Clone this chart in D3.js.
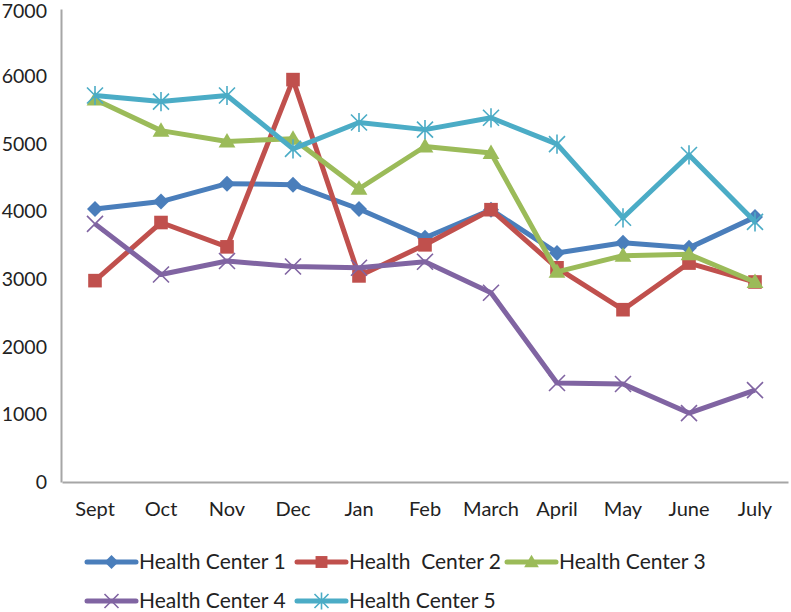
<!DOCTYPE html>
<html><head><meta charset="utf-8">
<script src="https://cdn.jsdelivr.net/npm/d3@7"></script>
<style>body{margin:0;background:#fff}svg{display:block}text{font-family:Lato,"Open Sans",sans-serif;fill:#222;white-space:pre}</style>
</head><body>
<script>
const months = ["Sept","Oct","Nov","Dec","Jan","Feb","March","April","May","June","July"];
const seriesNames = ["Health Center 1","Health  Center 2","Health Center 3","Health Center 4","Health Center 5"];
const hc1 = [4040,4150,4415,4400,4040,3615,4030,3390,3540,3465,3920];
const hc2 = [2980,3840,3480,5955,3050,3510,4030,3170,2550,3240,2960];
const hc3 = [5660,5200,5040,5080,4340,4965,4870,3110,3350,3370,2960];
const hc4 = [3820,3070,3270,3190,3170,3260,2800,1465,1450,1020,1360];
const hc5 = [5720,5630,5720,4930,5320,5215,5390,5000,3910,4840,3850];
const yTicks = [0,1000,2000,3000,4000,5000,6000,7000];
const colors = ["#4A7EBB","#C0504D","#9BBB59","#8064A2","#4BACC6"];
const markers = ["diamond","square","triangle","x","asterisk"];
const data = [hc1,hc2,hc3,hc4,hc5];

const W=791,H=612;
const svg=d3.select("body").append("svg").attr("width",W).attr("height",H);
const x=d3.scaleBand().domain(months).range([62,788]);
const y=d3.scaleLinear().domain([0,7000]).range([482,9]);

// axes
const gy=svg.append("g").attr("transform","translate(61,0)")
  .call(d3.axisLeft(y).tickValues(yTicks).tickSize(0).tickPadding(14).tickFormat(d3.format("d")));
gy.select(".domain").attr("stroke","#A6A6A6").attr("stroke-width",2);
gy.selectAll("text").style("font-size","19.5px").attr("fill","#222");
gy.selectAll(".tick").filter(d=>d===7000).select("text").attr("dy","0.42em");
const gx=svg.append("g").attr("transform","translate(0,482)")
  .call(d3.axisBottom(x).tickSize(0).tickPadding(20));
gx.select(".domain").attr("stroke","#A6A6A6").attr("stroke-width",2);
gx.selectAll("text").style("font-size","20px").attr("fill","#222");

function drawMarker(g,type,color,cx,cy,s){
  const m=g.append("g").attr("transform",`translate(${cx},${cy})`);
  if(type==="diamond") m.append("path").attr("d",`M0,${-s}L${s},0L0,${s}L${-s},0Z`).attr("fill",color);
  else if(type==="square") m.append("rect").attr("x",-s*0.85).attr("y",-s*0.85).attr("width",s*1.7).attr("height",s*1.7).attr("fill",color);
  else if(type==="triangle") m.append("path").attr("d",`M0,${-s*1.05}L${s*1.05},${s*0.75}L${-s*1.05},${s*0.75}Z`).attr("fill",color);
  else if(type==="x") m.append("path").attr("d",`M${-s},${-s}L${s},${s}M${-s},${s}L${s},${-s}`).attr("stroke",color).attr("stroke-width",1.6);
  else if(type==="asterisk") m.append("path").attr("d",`M${-s},${-s}L${s},${s}M${-s},${s}L${s},${-s}M0,${-s*1.2}L0,${s*1.2}`).attr("stroke",color).attr("stroke-width",1.6);
}

const line=d3.line().x((d,i)=>x(months[i])+x.bandwidth()/2).y(d=>y(d));
data.forEach((vals,k)=>{
  const g=svg.append("g");
  g.append("path").datum(vals).attr("d",line).attr("fill","none").attr("stroke",colors[k]).attr("stroke-width",5).attr("stroke-linejoin","round");
  vals.forEach((v,i)=>drawMarker(g,markers[k],colors[k],x(months[i])+x.bandwidth()/2,y(v),8));
});

// legend
const legPos=[[87,562],[297,562],[507,562],[87,601],[297,601]];
seriesNames.forEach((n,k)=>{
  const [lx,ly]=legPos[k];
  const g=svg.append("g");
  g.append("line").attr("x1",lx).attr("x2",lx+49).attr("y1",ly).attr("y2",ly).attr("stroke",colors[k]).attr("stroke-width",5).attr("stroke-linecap","round");
  drawMarker(g,markers[k],colors[k],lx+24.5,ly,7);
  g.append("text").attr("x",lx+52).attr("y",ly).attr("dy","0.35em").style("font-size","21px").text(n);
});
</script>
</body></html>
